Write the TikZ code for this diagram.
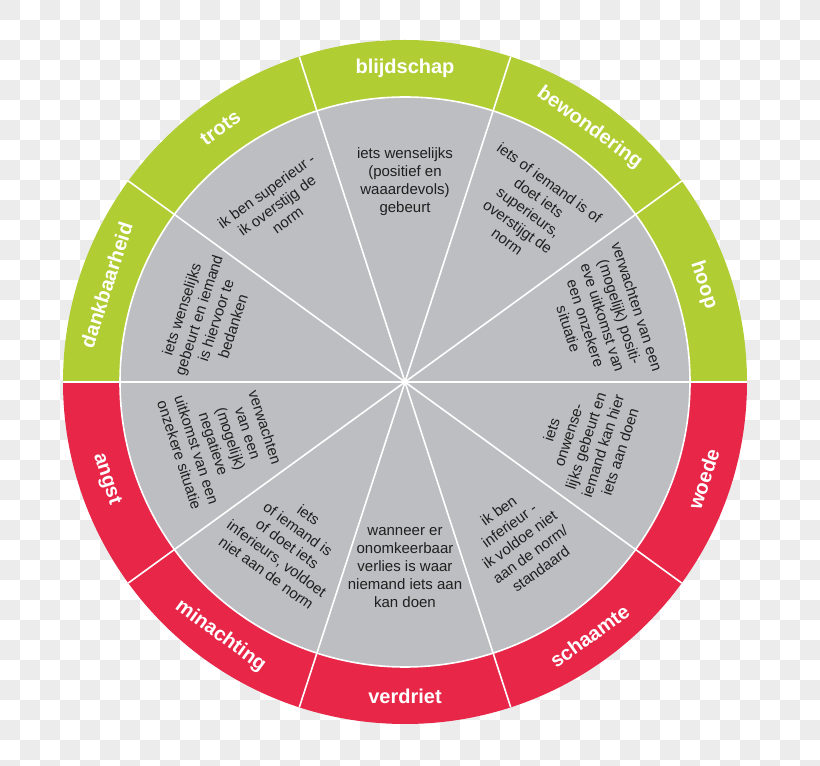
\documentclass[tikz,border=0pt]{standalone}
\usepackage{fontspec}
\setmainfont{Liberation Sans}
\definecolor{wgreen}{RGB}{176,206,52}
\definecolor{wred}{RGB}{232,38,72}
\definecolor{wgray}{RGB}{189,190,193}
\definecolor{chk}{RGB}{236,236,236}
\begin{document}
\begin{tikzpicture}[x=1pt,y=1pt,
  ring/.style={text=white,font=\fontsize{20}{24}\selectfont\bfseries,inner sep=0pt},
  desc/.style={text=black!88,font=\fontsize{15}{18}\selectfont,align=center,inner sep=0pt},
  sep/.style={white,line width=1.6pt}]
\useasboundingbox (0,0) rectangle (820,766);
\fill[white] (0,0) rectangle (820,766);
\begin{scope}
\clip (0,0) rectangle (820,766);
\foreach \i in {0,2,...,40} \foreach \j in {0,2,...,38} {
  \fill[chk] (20*\i,746-20*\j) rectangle ++(20,20);
  \fill[chk] (20*\i+20,726-20*\j) rectangle ++(20,20);
}
\end{scope}
\coordinate (c) at (405,384);
\fill[wgreen] ([shift={(0:342)}]c) arc[start angle=0,end angle=180,radius=342] -- cycle;
\fill[wred] ([shift={(180:342)}]c) arc[start angle=180,end angle=360,radius=342] -- cycle;
\fill[wgray] (c) circle[radius=285];
\foreach \a in {0,36,...,324} \draw[sep] (c) -- ++(\a:342);
\draw[sep] (c) circle[radius=285];
% ring labels
\node[ring,rotate=-72] (hoop) at ([shift={(18:314)}]c) {hoop};
\node[ring,rotate=-36] (bew) at ([shift={(54:314)}]c) {bewondering};
\node[ring,rotate=0] (blij) at ([shift={(90:314)}]c) {blijdschap};
\node[ring,rotate=36] (trots) at ([shift={(126:314)}]c) {trots};
\node[ring,rotate=72] (dank) at ([shift={(162:314)}]c) {dankbaarheid};
\node[ring,rotate=-72] (angst) at ([shift={(198:314)}]c) {angst};
\node[ring,rotate=-36] (mina) at ([shift={(234:314)}]c) {minachting};
\node[ring,rotate=0] (verd) at ([shift={(270:314)}]c) {verdriet};
\node[ring,rotate=36] (scha) at ([shift={(306:314)}]c) {schaamte};
\node[ring,rotate=72] (woede) at ([shift={(342:314)}]c) {woede};
% descriptions
\node[desc,rotate=-72] (dhoop) at ([shift={(18:208)}]c) {verwachten van een\\(mogelijk) positi-\\eve uitkomst van\\een onzekere\\situatie};
\node[desc,rotate=-36] (dbew) at ([shift={(54:210)}]c) {iets of iemand is of\\doet iets\\superieurs,\\overstijgt de\\norm};
\node[desc,rotate=0] (dblij) at ([shift={(90:200)}]c) {iets wenselijks\\(positief en\\waaardevols)\\gebeurt};
\node[desc,rotate=36] (dtrots) at ([shift={(126:218)}]c) {ik ben superieur -\\ik overstijg de\\norm};
\node[desc,rotate=72] (ddank) at ([shift={(162:208)}]c) {iets wenselijks\\gebeurt en iemand\\is hiervoor te\\bedanken};
\node[desc,rotate=-72] (dangst) at ([shift={(198:192)}]c) {verwachten\\van een\\(mogelijk)\\negatieve\\uitkomst van een\\onzekere situatie};
\node[desc,rotate=-36] (dmina) at ([shift={(234:200)}]c) {iets\\of iemand is\\of doet iets\\inferieurs, voldoet\\niet aan de norm};
\node[desc,rotate=0] (dverd) at ([shift={(270:186)}]c) {wanneer er\\onomkeerbaar\\verlies is waar\\niemand iets aan\\kan doen};
\node[desc,rotate=36] (dscha) at ([shift={(306:195)}]c) {ik ben\\inferieur -\\ik voldoe niet\\aan de norm/\\standaard};
\node[desc,rotate=72] (dwoede) at ([shift={(342:190)}]c) {iets\\onwense-\\lijks gebeurt en\\iemand kan hier\\iets aan doen};
\end{tikzpicture}
\end{document}
